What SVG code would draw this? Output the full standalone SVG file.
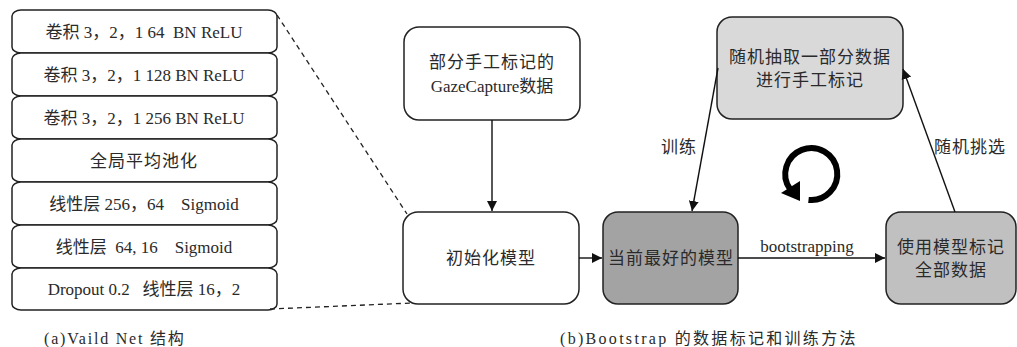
<svg xmlns="http://www.w3.org/2000/svg" width="1017" height="347" viewBox="0 0 1017 347">
<style>
.layer{fill:#fff;stroke:#222;stroke-width:1.5}
.box{stroke:#222;stroke-width:1.5}
.t{font-family:"Liberation Serif","Noto Sans CJK SC",serif;font-size:17px;fill:#2a2a2a;text-anchor:middle}
.cn{letter-spacing:1px}
.conn{stroke:#111;stroke-width:1.4;fill:none}
.dash{stroke:#222;stroke-width:1.3;stroke-dasharray:5,4;fill:none}
.cap{font-family:"Liberation Serif","Noto Sans CJK SC",serif;font-size:16px;fill:#2a2a2a}
</style>
<defs>
<marker id="arr" viewBox="0 0 10 10" refX="10" refY="5" markerWidth="10" markerHeight="10" markerUnits="userSpaceOnUse" orient="auto">
<path d="M0,0 L10,5 L0,10 z" fill="#111"/>
</marker>
</defs>
<rect width="1017" height="347" fill="#fff"/>
<g id="valid-net">
<g id="layer1"><rect class="layer" x="12" y="10" width="265" height="43" rx="9" ry="6"/><text class="t" x="144" y="38" xml:space="preserve">卷积 3，2，1 64  BN ReLU</text></g>
<g id="layer2"><rect class="layer" x="12" y="53" width="265" height="43" rx="9" ry="6"/><text class="t" x="144" y="81" xml:space="preserve">卷积 3，2，1 128 BN ReLU</text></g>
<g id="layer3"><rect class="layer" x="12" y="96" width="265" height="43" rx="9" ry="6"/><text class="t" x="144" y="124" xml:space="preserve">卷积 3，2，1 256 BN ReLU</text></g>
<g id="layer4"><rect class="layer" x="12" y="139" width="265" height="43" rx="9" ry="6"/><text class="t cn" x="144" y="167">全局平均池化</text></g>
<g id="layer5"><rect class="layer" x="12" y="182" width="265" height="43" rx="9" ry="6"/><text class="t" x="144" y="210" xml:space="preserve">线性层 256，64    Sigmoid</text></g>
<g id="layer6"><rect class="layer" x="12" y="225" width="265" height="43" rx="9" ry="6"/><text class="t" x="144" y="253" xml:space="preserve">线性层  64, 16    Sigmoid</text></g>
<g id="layer7"><rect class="layer" x="12" y="268" width="265" height="42" rx="9" ry="6"/><text class="t" x="144" y="295" xml:space="preserve">Dropout 0.2   线性层 16，2</text></g>
</g>
<g id="data"><rect class="box" x="404" y="27" width="176" height="93" rx="15" fill="#fff"/><text class="t cn" x="492" y="68">部分手工标记的</text><text class="t" x="492" y="92">GazeCapture数据</text></g>
<g id="init"><rect class="box" x="403" y="212" width="176" height="92" rx="15" fill="#fff"/><text class="t cn" x="491" y="264">初始化模型</text></g>
<g id="best"><rect class="box" x="603" y="212" width="135" height="92" rx="15" fill="#a3a3a3"/><text class="t cn" x="671" y="264">当前最好的模型</text></g>
<g id="label-all"><rect class="box" x="886" y="212" width="130" height="92" rx="15" fill="#c0c0c0"/><text class="t cn" x="951" y="253">使用模型标记</text><text class="t cn" x="951" y="276">全部数据</text></g>
<g id="sample"><rect class="box" x="717" y="17" width="186" height="102" rx="15" fill="#d9d9d9"/><text class="t cn" x="810" y="63">随机抽取一部分数据</text><text class="t cn" x="810" y="86">进行手工标记</text></g>
<g id="connectors">
<path class="dash" d="M277,15 L407,214"/>
<path class="dash" d="M270,309 L413,303"/>
<path class="conn" d="M492,120 L492,211" marker-end="url(#arr)"/>
<path class="conn" d="M579,258 L602,258" marker-end="url(#arr)"/>
<path class="conn" d="M738,258 L885,258" marker-end="url(#arr)"/>
<text class="t" x="807" y="252">bootstrapping</text>
<path class="conn" d="M718,68 L692,211" marker-end="url(#arr)"/>
<text class="t cn" x="679" y="153">训练</text>
<path class="conn" d="M955,212 L903,69" marker-end="url(#arr)"/>
<text class="t cn" x="970" y="153">随机挑选</text>
<path d="M808.5,199.9 A26,26 0 1 0 790,189" fill="none" stroke="#000" stroke-width="6"/>
<path d="M800,181 L800,201 L781,193 z" fill="#000"/>
</g>
<text class="cap" x="44" y="344" letter-spacing="1.8">(a)Vaild Net 结构</text>
<text class="cap" x="560" y="344" letter-spacing="2.3">(b)Bootstrap 的数据标记和训练方法</text>
</svg>
